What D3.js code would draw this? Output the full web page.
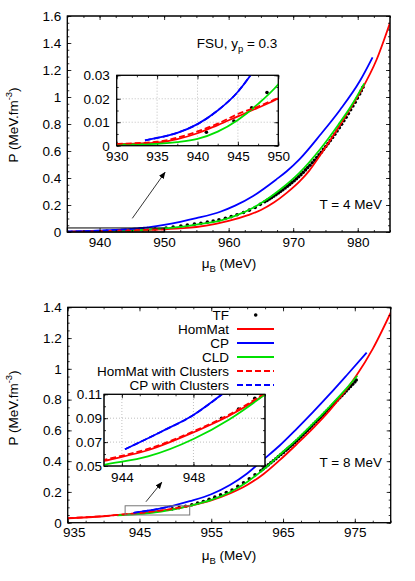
<!DOCTYPE html>
<html>
<head>
<meta charset="utf-8">
<script src="https://cdn.jsdelivr.net/npm/d3@7"></script>
<style>
body { margin: 0; background: #fff; }
svg text { font-family: "Liberation Sans", Arial, sans-serif; font-size: 13.5px; fill: #000; }
</style>
</head>
<body>
<div class="container"></div>
<script>
const width = 415;
const height = 581;

// ---- T = 4 MeV : [muB (MeV), P (MeV fm^-3)]
const topHomMat = [[930,0.0007],[935,0.0013],[937.5,0.0028],[940,0.0053],[942.5,0.0088],[945,0.0125],[947.5,0.0162],[950,0.0202],[953,0.028],[955,0.037],[958,0.06],[960,0.082],[963,0.125],[965,0.163],[967,0.218],[969,0.29],[971,0.375],[972.5,0.455],[974.2,0.57],[976.5,0.735],[978.8,0.91],[980.5,1.045],[982.9,1.274],[985,1.55]];
const topCP = [[933.5,0.0023],[935,0.0033],[937.5,0.0055],[940,0.0092],[942.5,0.015],[945,0.023],[947.5,0.035],[950,0.052],[952.5,0.075],[955,0.102],[958.7,0.15],[961,0.195],[963.8,0.267],[967.4,0.39],[969,0.45],[971,0.54],[974.2,0.72],[977.25,0.904],[980.35,1.12],[982.3,1.294]];
const topCLD = [[930,0.0005],[935,0.0008],[937.5,0.0015],[940,0.0029],[942.5,0.006],[945,0.011],[947.5,0.0178],[950,0.0262],[952.5,0.038],[955,0.055],[958.7,0.085],[961,0.12],[963.8,0.18],[966,0.245],[968,0.315],[971,0.44],[974.2,0.615],[977,0.795],[979,0.935],[981,1.1]];
const topHomMatCl = [[930,0.0008],[935,0.0017],[937.5,0.0034],[940,0.0061],[942.5,0.0094],[945,0.0135],[947.5,0.0167],[950,0.0204]];
const topCPCl = [[933.5,0.0023],[935,0.0033],[937.5,0.0055],[940,0.0092],[942.5,0.015],[945,0.023],[947.5,0.035]];
const topTF = [[941.1,0.0057],[944.5,0.0105],[946.7,0.0162],[948.6,0.0227],[950.3,0.03],[951.4,0.036],[952.6,0.044],[953.6,0.051],[954.7,0.058],[955.7,0.065],[956.7,0.073],[957.6,0.081],[958.5,0.09],[959.5,0.101],[960.4,0.114],[961.3,0.128],[962.3,0.144],[963.2,0.162],[964.1,0.182],[964.9,0.205],[965.6,0.224],[965.95,0.234],[966.3,0.244],[966.65,0.255],[967,0.266],[967.35,0.277],[967.7,0.289],[968.05,0.301],[968.4,0.313],[968.75,0.326],[969.1,0.339],[969.45,0.352],[969.8,0.366],[970.15,0.38],[970.5,0.394],[970.85,0.409],[971.2,0.425],[971.55,0.442],[971.9,0.46],[972.25,0.477],[972.6,0.495],[972.95,0.513],[973.3,0.532],[973.65,0.551],[974,0.571],[974.35,0.591],[974.7,0.612],[975.05,0.633],[975.4,0.655],[975.75,0.677],[976.1,0.7],[976.45,0.724],[976.8,0.748],[977.15,0.773],[977.5,0.798],[977.85,0.824],[978.2,0.85],[978.55,0.877],[978.9,0.905],[979.25,0.933],[979.6,0.962],[979.95,0.992],[980.3,1.022],[980.55,1.047],[980.8,1.072]];

// ---- T = 8 MeV
const botHomMat = [[935,0.028],[940,0.042],[943,0.0542],[945.5,0.0634],[948,0.0782],[950,0.092],[952,0.11],[955,0.145],[957.6,0.19],[960,0.245],[962.25,0.315],[964.5,0.405],[966.9,0.51],[969.2,0.615],[971.5,0.73],[973.4,0.84],[975.2,0.955],[977.5,1.13],[980,1.365]];
const botCP = [[944.17,0.064],[946.2,0.0787],[948,0.0927],[949.6,0.11],[952,0.14],[955,0.185],[957.6,0.245],[960,0.32],[962.25,0.41],[964.5,0.5],[966.9,0.61],[969.2,0.72],[971.5,0.835],[974,0.965],[976.65,1.105]];
const botCLD = [[941.9,0.0475],[943,0.051],[945.46,0.058],[948,0.0726],[950,0.089],[952,0.11],[955,0.148],[957.6,0.198],[960,0.265],[962.25,0.345],[964.5,0.44],[966.9,0.54],[969.2,0.645],[971.5,0.755],[973.4,0.85],[975.35,0.955]];
const botHomMatCl = [[935,0.029],[940,0.043],[943,0.055],[945.5,0.0645],[948,0.079],[950,0.093],[952,0.111]];
const botCPCl = [[944.17,0.064],[946.2,0.0787],[948,0.0927],[949.6,0.11]];
const botTF = [[949.57,0.09],[950.52,0.0977],[951.43,0.1067],[952.3,0.117],[953.1,0.127],[953.9,0.138],[954.7,0.152],[955.5,0.166],[956.3,0.181],[957.1,0.196],[957.9,0.212],[958.7,0.236],[959.5,0.26],[960.3,0.285],[961.1,0.311],[961.9,0.338],[962.25,0.35],[962.6,0.363],[962.95,0.376],[963.3,0.39],[963.65,0.403],[964,0.416],[964.35,0.43],[964.7,0.443],[965.05,0.457],[965.4,0.471],[965.7,0.483],[966,0.495],[966.3,0.507],[966.6,0.52],[966.9,0.532],[967.2,0.545],[967.5,0.558],[967.8,0.572],[968.1,0.586],[968.4,0.6],[968.7,0.614],[969,0.628],[969.3,0.642],[969.6,0.656],[969.9,0.67],[970.2,0.684],[970.5,0.698],[970.8,0.712],[971.1,0.726],[971.4,0.741],[971.7,0.755],[972,0.77],[972.3,0.784],[972.6,0.798],[972.9,0.812],[973.2,0.826],[973.5,0.841],[973.8,0.856],[974.1,0.871],[974.4,0.886],[974.7,0.9],[975,0.915],[975.2,0.927]];

// ---- ticks
const topXTicks = [940, 950, 960, 970, 980];
const topYTicks = [0, 0.2, 0.4, 0.6, 0.8, 1, 1.2, 1.4, 1.6];
const topInsetXTicks = [930, 935, 940, 945, 950];
const topInsetYTicks = [0, 0.01, 0.02, 0.03];
const botXTicks = [935, 945, 955, 965, 975];
const botYTicks = [0, 0.2, 0.4, 0.6, 0.8, 1, 1.2, 1.4];
const botInsetXTicks = [944, 948];
const botInsetYTicks = [0.05, 0.07, 0.09, 0.11];

const legendNames = ["TF", "HomMat", "CP", "CLD", "HomMat with Clusters", "CP with Clusters"];
const RED = "#ff0000", BLUE = "#0000ff", GREEN = "#00e000";

const svg = d3.select(".container")
    .append("svg")
    .attr("width", width)
    .attr("height", height);

const defs = svg.append("defs");
defs.append("marker")
    .attr("id", "head")
    .attr("viewBox", "0 0 10 10")
    .attr("refX", 9).attr("refY", 5)
    .attr("markerWidth", 7).attr("markerHeight", 7)
    .attr("markerUnits", "userSpaceOnUse")
    .attr("orient", "auto")
    .append("path")
    .attr("d", "M0,1 L10,5 L0,9 Z")
    .attr("fill", "#000");

let clipN = 0;
function clipFor(x, y) {
    const id = "clip" + (clipN++);
    defs.append("clipPath").attr("id", id)
        .append("rect")
        .attr("x", x.range()[0]).attr("y", y.range()[1])
        .attr("width", x.range()[1] - x.range()[0])
        .attr("height", y.range()[0] - y.range()[1]);
    return id;
}

function axes(g, x, y, o) {
    const [x0, x1] = x.range();
    const [y0, y1] = y.range();
    const maj = 4, mn = 2;

    if (o.grid) {
        g.append("g").selectAll("line").data(o.xMajor.filter(v => v > x.domain()[0] && v < x.domain()[1]))
            .enter().append("line")
            .attr("x1", d => x(d)).attr("x2", d => x(d))
            .attr("y1", y0).attr("y2", y1)
            .attr("stroke", "#b0b0b0").attr("stroke-width", 0.8).attr("stroke-dasharray", "1,2");
        g.append("g").selectAll("line").data(o.yMajor.filter(v => v > y.domain()[0] && v < y.domain()[1]))
            .enter().append("line")
            .attr("x1", x0).attr("x2", x1)
            .attr("y1", d => y(d)).attr("y2", d => y(d))
            .attr("stroke", "#b0b0b0").attr("stroke-width", 0.8).attr("stroke-dasharray", "1,2");
    }

    const bx = g.append("g").attr("transform", `translate(0,${y0})`)
        .call(d3.axisBottom(x).tickValues(o.xMajor).tickSize(-maj).tickPadding(o.xPad || 5).tickFormat(d => d));
    g.append("g").attr("transform", `translate(0,${y1})`)
        .call(d3.axisTop(x).tickValues(o.xMajor).tickSize(-maj).tickFormat(""));
    g.append("g").attr("transform", `translate(${x0},0)`)
        .call(d3.axisLeft(y).tickValues(o.yMajor).tickSize(-maj).tickPadding(o.yPad || 6).tickFormat(d => String(d)));
    g.append("g").attr("transform", `translate(${x1},0)`)
        .call(d3.axisRight(y).tickValues(o.yMajor).tickSize(-maj).tickFormat(""));

    g.append("g").attr("transform", `translate(0,${y0})`)
        .call(d3.axisBottom(x).tickValues(o.xMinor).tickSize(-mn).tickFormat(""));
    g.append("g").attr("transform", `translate(0,${y1})`)
        .call(d3.axisTop(x).tickValues(o.xMinor).tickSize(-mn).tickFormat(""));
    g.append("g").attr("transform", `translate(${x0},0)`)
        .call(d3.axisLeft(y).tickValues(o.yMinor).tickSize(-mn).tickFormat(""));
    g.append("g").attr("transform", `translate(${x1},0)`)
        .call(d3.axisRight(y).tickValues(o.yMinor).tickSize(-mn).tickFormat(""));

    g.selectAll(".domain").remove();
    g.selectAll(".tick line").attr("stroke", "#000").attr("stroke-width", 0.8);
    return bx;
}

function frame(g, x, y, fill) {
    g.append("rect")
        .attr("x", x.range()[0]).attr("y", y.range()[1])
        .attr("width", x.range()[1] - x.range()[0])
        .attr("height", y.range()[0] - y.range()[1])
        .attr("fill", fill).attr("stroke", "#000").attr("stroke-width", 1);
}

function curves(g, x, y, s) {
    const cg = g.append("g").attr("clip-path", `url(#${clipFor(x, y)})`);
    const line = d3.line().x(d => x(d[0])).y(d => y(d[1])).curve(d3.curveMonotoneX);
    cg.selectAll("circle").data(s.tf).enter().append("circle")
        .attr("cx", d => x(d[0])).attr("cy", d => y(d[1]))
        .attr("r", 1.8).attr("fill", "#000");
    const series = [
        [s.hom, RED, null], [s.cp, BLUE, null], [s.cld, GREEN, null],
        [s.homCl, RED, "6,3"], [s.cpCl, BLUE, "6,3"]
    ];
    series.forEach(([data, col, dash]) => {
        cg.append("path").datum(data)
            .attr("d", line)
            .attr("fill", "none")
            .attr("stroke", col)
            .attr("stroke-width", 1.8)
            .attr("stroke-dasharray", dash);
    });
}

function minorRange(a, b, step) {
    return d3.range(Math.round((b - a) / step) + 1).map(i => +(a + i * step).toFixed(4));
}

function yLabel(g, cx, cy) {
    const t = g.append("text")
        .attr("transform", `translate(${cx},${cy}) rotate(-90)`)
        .attr("text-anchor", "middle");
    t.append("tspan").text("P (MeV.fm");
    t.append("tspan").text("-3").attr("font-size", "9.5px").attr("dy", -6);
    t.append("tspan").text(")").attr("dy", 6);
}

function xLabel(g, cx, by) {
    const t = g.append("text")
        .attr("x", cx).attr("y", by)
        .attr("text-anchor", "middle");
    t.append("tspan").text("\u03bc");
    t.append("tspan").text("B").attr("font-size", "9.5px").attr("dy", 4);
    t.append("tspan").text(" (MeV)").attr("dy", -4);
}

// ================= T = 4 MeV panel =================
const gt = svg.append("g");
const xT = d3.scaleLinear().domain([935, 985]).range([67.3, 390]);
const yT = d3.scaleLinear().domain([0, 1.6]).range([232, 16]);
frame(gt, xT, yT, "#fff");
curves(gt, xT, yT, {tf: topTF, hom: topHomMat, cp: topCP, cld: topCLD, homCl: topHomMatCl, cpCl: topCPCl});
axes(gt, xT, yT, {
    xMajor: topXTicks, xMinor: minorRange(935, 985, 2.5),
    yMajor: topYTicks, yMinor: minorRange(0, 1.6, 0.05)
});
frame(gt, xT, yT, "none");

// zoom box and arrow
gt.append("rect")
    .attr("x", xT(935)).attr("y", yT(0.03))
    .attr("width", xT(950) - xT(935)).attr("height", yT(0) - yT(0.03))
    .attr("fill", "none").attr("stroke", "#000").attr("stroke-width", 1);
gt.append("line")
    .attr("x1", xT(945.07)).attr("y1", yT(0.101))
    .attr("x2", xT(950.14)).attr("y2", yT(0.442))
    .attr("stroke", "#000").attr("stroke-width", 0.8)
    .attr("marker-end", "url(#head)");

gt.append("text").attr("x", 237).attr("y", 48).attr("text-anchor", "middle")
    .call(t => {
        t.append("tspan").text("FSU, y");
        t.append("tspan").text("p").attr("font-size", "9.5px").attr("dy", 4);
        t.append("tspan").text(" = 0.3").attr("dy", -4);
    });
gt.append("text").attr("x", 382).attr("y", 209).attr("text-anchor", "end").text("T = 4 MeV");
yLabel(gt, 18, 125);
xLabel(gt, 229, 268);

// inset
const xTi = d3.scaleLinear().domain([930, 950]).range([116.7, 278.3]);
const yTi = d3.scaleLinear().domain([0, 0.03]).range([145.7, 75.3]);
const gti = gt.append("g");
frame(gti, xTi, yTi, "#fff");
axes(gti, xTi, yTi, {
    grid: true, xPad: 6, yPad: 7,
    xMajor: topInsetXTicks, xMinor: minorRange(930, 950, 2.5),
    yMajor: topInsetYTicks, yMinor: minorRange(0, 0.03, 0.005)
});
curves(gti, xTi, yTi, {tf: topTF, hom: topHomMat, cp: topCP, cld: topCLD, homCl: topHomMatCl, cpCl: topCPCl});
frame(gti, xTi, yTi, "none");

// ================= T = 8 MeV panel =================
const gb = svg.append("g");
const xB = d3.scaleLinear().domain([935, 980]).range([67.7, 390.7]);
const yB = d3.scaleLinear().domain([0, 1.4]).range([522.7, 307.3]);
frame(gb, xB, yB, "#fff");
curves(gb, xB, yB, {tf: botTF, hom: botHomMat, cp: botCP, cld: botCLD, homCl: botHomMatCl, cpCl: botCPCl});
const bxB = axes(gb, xB, yB, {
    xMajor: botXTicks, xMinor: minorRange(935, 980, 2.5),
    yMajor: botYTicks, yMinor: minorRange(0, 1.4, 0.05)
});
bxB.selectAll(".tick text").filter(d => d === 935).attr("dx", 6);
frame(gb, xB, yB, "none");

gb.append("rect")
    .attr("x", xB(943)).attr("y", yB(0.11))
    .attr("width", xB(952) - xB(943)).attr("height", yB(0.05) - yB(0.11))
    .attr("fill", "none").attr("stroke", "#777").attr("stroke-width", 1);
gb.append("line")
    .attr("x1", xB(945.9)).attr("y1", yB(0.136))
    .attr("x2", xB(948.1)).attr("y2", yB(0.262))
    .attr("stroke", "#000").attr("stroke-width", 0.8)
    .attr("marker-end", "url(#head)");

gb.append("text").attr("x", 382).attr("y", 466.7).attr("text-anchor", "end").text("T = 8 MeV");
yLabel(gb, 18, 408);
xLabel(gb, 229, 560);

// legend
const legY = [315, 329, 343, 357, 371, 385];
const legStyle = [null, [RED, null], [BLUE, null], [GREEN, null], [RED, "6,3"], [BLUE, "6,3"]];
const leg = gb.append("g");
legendNames.forEach((name, i) => {
    leg.append("text").attr("x", 229).attr("y", legY[i] + 4.5).attr("text-anchor", "end").text(name);
    if (i === 0) {
        leg.append("circle").attr("cx", 255.7).attr("cy", legY[i]).attr("r", 1.8).attr("fill", "#000");
    } else {
        leg.append("line")
            .attr("x1", 237).attr("x2", 274).attr("y1", legY[i]).attr("y2", legY[i])
            .attr("stroke", legStyle[i][0]).attr("stroke-width", 1.8)
            .attr("stroke-dasharray", legStyle[i][1]);
    }
});

// inset
const xBi = d3.scaleLinear().domain([943, 952]).range([104, 265]);
const yBi = d3.scaleLinear().domain([0.05, 0.11]).range([466, 394.3]);
const gbi = gb.append("g");
frame(gbi, xBi, yBi, "#fff");
axes(gbi, xBi, yBi, {
    grid: true, yPad: 2, xPad: 6,
    xMajor: botInsetXTicks, xMinor: minorRange(943, 952, 1),
    yMajor: botInsetYTicks, yMinor: minorRange(0.05, 0.11, 0.01)
});
curves(gbi, xBi, yBi, {tf: botTF, hom: botHomMat, cp: botCP, cld: botCLD, homCl: botHomMatCl, cpCl: botCPCl});
frame(gbi, xBi, yBi, "none");
</script>
</body>
</html>
